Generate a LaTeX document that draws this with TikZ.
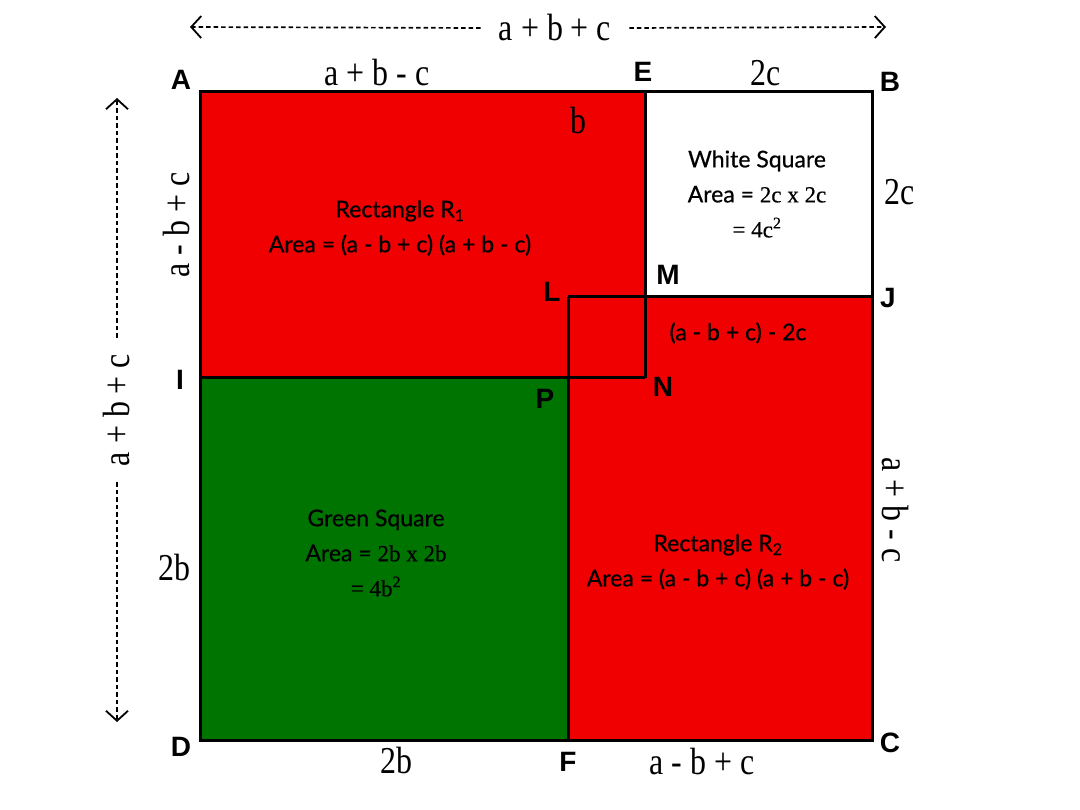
\documentclass[tikz,border=0pt]{standalone}
\usepackage{fontspec}
\setmainfont{Lato}
\newfontfamily\areafont[FakeBold=0.6]{Lato}
\newfontfamily\dimfont[FakeStretch=0.84]{Liberation Serif}
\newfontfamily\numfont[FakeBold=0.4]{Liberation Serif}
\newfontfamily\ptfont{Liberation Sans}
\usetikzlibrary{arrows.meta}
\definecolor{rred}{RGB}{240,0,0}
\definecolor{rgreen}{RGB}{0,116,0}

\begin{document}
\begin{tikzpicture}[x=1pt,y=-1pt,
    edge/.style ={draw=black, line width=3pt},
    point/.style ={font=\ptfont\bfseries\fontsize{28}{28}\selectfont, inner sep=0pt},
    dimension/.style ={font=\dimfont\fontsize{38}{38}\selectfont, inner sep=0pt},
    areatext/.style ={font=\areafont\fontsize{23}{35}\selectfont, align=center, inner sep=0pt},
    dimarrow/.style ={line width=1.7pt, dash pattern=on 4.5pt off 3pt, -{Straight Barb[length=10pt,width=22pt,line width=1.8pt]}}]
   \fill[white] (0,0) rectangle (1080,810);
   \useasboundingbox (0,0) rectangle (1080,810);

   % corners
   \coordinate (A) at (200,92);
   \coordinate (E) at (645,92);
   \coordinate (B) at (872,92);
   \coordinate (L) at (568,297);
   \coordinate (M) at (645,297);
   \coordinate (J) at (872,297);
   \coordinate (I) at (200,378);
   \coordinate (P) at (568,378);
   \coordinate (N) at (645,378);
   \coordinate (D) at (200,740);
   \coordinate (F) at (568,740);
   \coordinate (C) at (872,740);

   \fill[rred] (A) rectangle (N);
   \fill[rred] (L) rectangle (C);
   \fill[rgreen] (I) rectangle (F);

   \draw[edge] (A) rectangle (C);
   \draw[edge] (E) to (N);
   \draw[edge] (I) to (N);
   \draw[edge] (L) to (J);
   \draw[edge] (L) to (F);

   % point names
   \node[point] (labA) at (181,80)  {A};
   \node[point] (labE) at (643,72)  {E};
   \node[point] (labB) at (890,82)  {B};
   \node[point] (labM) at (668,275) {M};
   \node[point] (labJ) at (888,298) {J};
   \node[point] (labL) at (552,292) {L};
   \node[point] (labN) at (663,387) {N};
   \node[point] (labI) at (180,380) {I};
   \node[point] (labP) at (545,399) {P};
   \node[point] (labD) at (181,747) {D};
   \node[point] (labF) at (568,762) {F};
   \node[point] (labC) at (890,743) {C};

   % lengths
   \node[dimension] (sAE) at (377,73)  {a + b - c};
   \node[dimension] (sEB) at (766,73)  {2c};
   \node[dimension] (sb)  at (578,121) {b};
   \node[dimension] (sBJ) at (900,192) {2c};
   \node[dimension, rotate=90] (sAI) at (177,225) {a - b + c};
   \node[dimension] (sID) at (174,568) {2b};
   \node[dimension] (sDF) at (396,760) {2b};
   \node[dimension] (sFC) at (702,762) {a - b + c};
   \node[dimension, rotate=-90] (sJC) at (895,510) {a + b - c};
   \node[areatext] (sMN) at (738,333) {(a - b + c) - 2c};

   % whole side
   \node[dimension, inner xsep=18pt] (top) at (555,28) {a + b + c};
   \coordinate (topL) at (190,27);
   \coordinate (topR) at (886,27);
   \draw[dimarrow] (top.west) to (topL);
   \draw[dimarrow] (top.east) to (topR);
   \node[dimension, rotate=90, inner xsep=16pt] (side) at (117,410) {a + b + c};
   \coordinate (sideT) at (117,98);
   \coordinate (sideB) at (117,722);
   \draw[dimarrow] (side.east) to (sideT);
   \draw[dimarrow] (side.west) to (sideB);

   % areas
   \node[areatext] (areaR1) at (400,228) {Rectangle R\textsubscript{1}\\Area = (a - b + c) (a + b - c)};
   \node[areatext] (areaW) at (757,194) {White Square\\Area = {\numfont 2c x 2c}\\{\numfont = 4c\textsuperscript{2}}};
   \node[areatext] (areaG) at (376,553) {Green Square\\Area = {\numfont 2b x 2b}\\{\numfont = 4b\textsuperscript{2}}};
   \node[areatext] (areaR2) at (718,562) {Rectangle R\textsubscript{2}\\Area = (a - b + c) (a + b - c)};
\end{tikzpicture}
\end{document}
